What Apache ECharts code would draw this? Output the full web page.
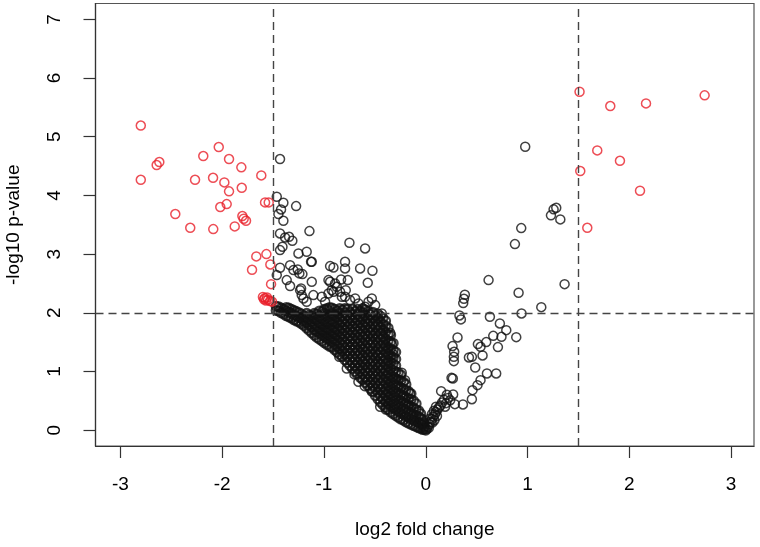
<!DOCTYPE html>
<html><head><meta charset="utf-8">
<script src="https://cdn.jsdelivr.net/npm/echarts@6/dist/echarts.min.js"></script>
<style>html,body{margin:0;padding:0;background:#fff}#c{width:760px;height:547px}</style>
</head><body><div id="c"></div>
<script>
const xTicks = [-3,-2,-1,0,1,2,3];
const yTicks = [0,1,2,3,4,5,6,7];
const fcCut = 1.5;
const pCut = 2;

const redLeft = [
 [-2.80,5.19],[-2.644,4.517],[-2.618,4.568],[-2.80,4.266],[-2.034,4.824],[-2.186,4.670],
 [-1.933,4.619],[-1.812,4.478],[-1.616,4.341],[-2.267,4.266],[-2.090,4.300],[-1.979,4.222],
 [-1.933,4.069],[-1.808,4.130],[-1.579,3.881],[-1.543,3.881],[-1.956,3.852],[-2.019,3.801],
 [-2.461,3.682],[-1.802,3.648],[-1.789,3.602],[-1.766,3.567],[-2.314,3.448],[-2.088,3.426],
 [-1.877,3.472],[-1.665,2.961],[-1.566,3.0],[-1.527,2.824],[-1.707,2.732],[-1.520,2.488],
 [-1.60,2.27],[-1.58,2.25],[-1.56,2.26],[-1.55,2.22],[-1.53,2.20],[-1.57,2.21],[-1.51,2.19],[-1.59,2.23]
];
const redRight = [
 [1.511,5.766],[1.813,5.522],[2.164,5.568],[2.740,5.705],[1.685,4.767],[1.908,4.590],
 [1.518,4.415],[2.105,4.079],[1.587,3.448]
];
const blackLeftScatter = [
 [-1.432,4.619],[-1.464,3.977],[-1.399,3.875],[-1.422,3.761],[-1.448,3.682],[-1.399,3.568],[-1.274,3.818],
 [-1.143,3.392],[-1.432,3.352],[-1.382,3.284],[-1.343,3.295],[-1.311,3.227],[-1.432,3.068],[-1.408,3.125],
 [-1.251,3.011],[-1.170,3.04],[-1.120,2.869],[-0.750,3.193],[-0.596,3.096],
 [-1.333,2.812],[-1.300,2.727],[-1.258,2.738],[-1.212,2.659],[-1.432,2.767],[-1.464,2.642],[-1.366,2.557],
 [-1.333,2.455],[-1.120,2.528],[-0.940,2.795],[-0.907,2.772],[-0.793,2.869],[-0.793,2.756],[-0.645,2.756],
 [-0.524,2.716],[-0.940,2.528],[-0.891,2.500],[-0.832,2.568],[-0.766,2.557],[-0.570,2.511],[-0.956,2.557],
 [-1.235,2.386],[-1.219,2.301],[-1.170,2.188],[-1.202,2.244],[-1.104,2.301],[-1.022,2.273],[-0.989,2.188],
 [-0.956,2.330],[-0.924,2.386],[-0.874,2.443],[-0.842,2.358],[-0.793,2.273],[-0.744,2.216],[-0.694,2.244],
 [-0.661,2.159],[-0.596,2.102],[-0.530,2.244],[-0.497,2.131],[-0.786,2.386],[-0.907,2.358],[-0.825,2.273],
 [-0.563,2.188],[-1.225,2.415],[-1.242,2.671],[-1.127,2.869]
];
const blackLeftEdge = [
 [-0.776,1.051],[-0.662,0.823],[-0.60,0.75],[-0.530,0.659],[-0.448,0.398],[-0.392,0.352],[-0.70,0.95],
 [-0.85,1.25],[-0.432,1.989],[-0.350,1.659],[-0.334,1.460],[-0.317,1.290],[-0.236,0.977],[-0.203,0.852],[-0.154,0.625]
];
const massCols = [
 [-1.47,[2.04,2.11]],
 [-1.42,[2.00,2.08]],
 [-1.37,[1.95,2.03,2.09]],
 [-1.32,[1.91,1.99,2.06]],
 [-1.27,[1.86,1.95,2.02]],
 [-1.22,[1.81,1.90,1.98]],
 [-1.17,[1.74,1.83,1.92,1.99]],
 [-1.12,[1.66,1.76,1.85,1.95]],
 [-1.07,[1.58,1.68,1.78,1.88,1.98]],
 [-1.02,[1.52,1.62,1.71,1.81,1.91,2.02]],
 [-0.97,[1.46,1.56,1.66,1.75,1.85,1.96,2.07]],
 [-0.92,[1.41,1.50,1.60,1.70,1.80,1.89,1.99,2.08]],
 [-0.87,[1.33,1.43,1.53,1.62,1.72,1.83,1.93,2.03]],
 [-0.82,[1.25,1.35,1.45,1.55,1.64,1.74,1.85,1.95,2.05]],
 [-0.77,[1.15,1.26,1.36,1.46,1.56,1.66,1.76,1.86,1.96,2.06]],
 [-0.72,[1.05,1.15,1.25,1.36,1.46,1.56,1.67,1.77,1.87,1.97,2.06]],
 [-0.67,[0.95,1.05,1.15,1.26,1.36,1.47,1.57,1.68,1.78,1.88,1.98,2.06]],
 [-0.62,[0.86,0.96,1.06,1.17,1.27,1.38,1.48,1.59,1.69,1.79,1.90,2.00,2.07]],
 [-0.57,[0.76,0.86,0.97,1.07,1.18,1.28,1.39,1.49,1.60,1.70,1.81,1.91,2.02]],
 [-0.52,[0.66,0.76,0.87,0.97,1.08,1.18,1.29,1.40,1.50,1.61,1.71,1.82,1.92,2.01]],
 [-0.47,[0.53,0.64,0.74,0.85,0.95,1.06,1.16,1.27,1.37,1.48,1.58,1.69,1.79,1.90,1.98]],
 [-0.42,[0.43,0.53,0.64,0.74,0.85,0.96,1.06,1.17,1.27,1.38,1.49,1.59,1.70,1.80,1.91]],
 [-0.37,[0.35,0.45,0.56,0.66,0.77,0.88,0.98,1.09,1.19,1.30,1.41,1.52,1.63,1.74]],
 [-0.32,[0.28,0.38,0.49,0.59,0.70,0.81,0.91,1.02,1.13,1.24,1.36,1.48]],
 [-0.27,[0.22,0.32,0.43,0.53,0.64,0.75,0.86,0.98]],
 [-0.22,[0.17,0.27,0.37,0.48,0.59,0.70,0.82]],
 [-0.17,[0.12,0.22,0.32,0.43,0.54,0.66]],
 [-0.12,[0.08,0.17,0.27,0.38,0.50]],
 [-0.07,[0.04,0.13,0.23,0.33]],
 [-0.03,[0.01,0.09,0.18]],
 [0.00,[0.00]]
];
const massCols2 = [
 [-1.445,[2.03,2.10]],
 [-1.395,[1.98,2.06]],
 [-1.345,[1.93,2.01,2.08]],
 [-1.295,[1.88,1.96,2.04]],
 [-1.245,[1.84,1.92,2.00]],
 [-1.195,[1.78,1.86,1.94]],
 [-1.145,[1.70,1.79,1.88,1.96]],
 [-1.095,[1.62,1.71,1.81,1.91,1.99]],
 [-1.045,[1.55,1.65,1.75,1.85,1.95,2.03]],
 [-0.995,[1.49,1.59,1.69,1.79,1.89,1.99,2.06]],
 [-0.945,[1.43,1.53,1.63,1.73,1.83,1.93,2.03,2.09]],
 [-0.895,[1.37,1.46,1.56,1.66,1.76,1.86,1.96,2.06]],
 [-0.845,[1.29,1.39,1.49,1.59,1.69,1.79,1.89,1.99,2.07]],
 [-0.795,[1.20,1.30,1.40,1.50,1.60,1.70,1.80,1.90,2.00,2.07]],
 [-0.745,[1.10,1.20,1.31,1.41,1.51,1.61,1.71,1.81,1.91,2.01]],
 [-0.695,[1.00,1.10,1.20,1.31,1.41,1.51,1.62,1.72,1.82,1.92,2.02]],
 [-0.645,[0.90,1.00,1.10,1.21,1.31,1.42,1.52,1.63,1.73,1.83,1.93,2.03]],
 [-0.595,[0.81,0.91,1.01,1.12,1.22,1.33,1.43,1.54,1.64,1.75,1.85,1.96,2.05]],
 [-0.545,[0.71,0.81,0.92,1.02,1.13,1.23,1.34,1.45,1.55,1.66,1.76,1.87,1.97]],
 [-0.495,[0.59,0.70,0.80,0.91,1.01,1.12,1.23,1.33,1.44,1.55,1.65,1.76,1.86,1.95]],
 [-0.445,[0.48,0.58,0.69,0.79,0.90,1.01,1.11,1.22,1.32,1.43,1.54,1.64,1.75,1.85,1.94]],
 [-0.395,[0.39,0.49,0.60,0.70,0.81,0.92,1.02,1.13,1.23,1.34,1.45,1.56,1.67,1.78,1.86]],
 [-0.345,[0.31,0.41,0.52,0.62,0.73,0.84,0.94,1.05,1.16,1.27,1.38,1.50,1.62]],
 [-0.295,[0.25,0.35,0.45,0.56,0.66,0.77,0.88,0.99,1.10,1.21,1.33]],
 [-0.245,[0.19,0.29,0.40,0.50,0.61,0.72,0.84,0.94]],
 [-0.195,[0.14,0.24,0.35,0.45,0.56,0.68,0.78]],
 [-0.145,[0.10,0.19,0.29,0.40,0.52,0.62]],
 [-0.095,[0.06,0.15,0.25,0.35,0.45]],
 [-0.05,[0.03,0.11,0.20,0.28]],
 [-0.015,[0.02,0.06,0.12]]
];
const blackRightArm = [
 [0.01,0.02],[0.02,0.06],[0.035,0.10],[0.05,0.14],[0.06,0.19],[0.075,0.23],[0.09,0.27],[0.10,0.31],
 [0.115,0.35],[0.13,0.39],[0.145,0.42],[0.04,0.20],[0.06,0.27],[0.08,0.33],[0.10,0.40],[0.03,0.04],
 [0.065,0.13],[0.085,0.17],[0.11,0.24],[0.16,0.47],[0.18,0.52],[0.20,0.46],[0.19,0.40],[0.22,0.55]
];
const blackRightScatter = [
 [0.977,4.829],[1.282,3.789],[1.256,3.762],[1.230,3.660],[1.322,3.591],[0.938,3.443],[0.876,3.170],
 [0.617,2.557],[1.364,2.488],[0.912,2.341],[0.384,2.307],[0.375,2.238],[0.368,2.165],[1.135,2.096],
 [0.941,1.989],[0.331,1.955],[0.345,1.887],[0.630,1.931],[0.728,1.818],[0.791,1.704],[0.663,1.607],
 [0.744,1.590],[0.889,1.585],[0.312,1.580],[0.263,1.432],[0.279,1.335],[0.276,1.249],[0.276,1.176],
 [0.512,1.466],[0.538,1.420],[0.594,1.500],[0.709,1.415],[0.558,1.273],[0.424,1.239],[0.453,1.249],
 [0.486,1.068],[0.253,0.891],[0.266,0.881],[0.601,0.966],[0.692,0.966],[0.538,0.852],[0.508,0.767],
 [0.459,0.682],[0.151,0.665],[0.207,0.602],[0.269,0.608],[0.453,0.528],[0.365,0.438],[0.286,0.443],[0.240,0.511]
];

const massPts = [];
massCols.concat(massCols2).forEach(c => c[1].forEach(y => massPts.push([c[0], y])));
const blackOther = blackLeftEdge.concat(blackLeftScatter, blackRightArm, blackRightScatter);
const redAll = redLeft.concat(redRight);

const FONT = 'Liberation Sans';
const chart = echarts.init(document.getElementById('c'), null, {renderer:'canvas'});
const ring = (col, w) => ({color:'rgba(0,0,0,0)', borderColor:col, borderWidth:w});
chart.setOption({
  animation:false,
  backgroundColor:'#fff',
  grid:{left:95.5, right:6, top:3.5, bottom:101, containLabel:false, outerBoundsMode:'none',
        show:true, borderColor:'#555', borderWidth:1.2, backgroundColor:'transparent'},
  xAxis:{
    type:'value', min:-3.245, max:3.225,
    splitLine:{show:false},
    axisLine:{show:true, onZero:false, lineStyle:{color:'#333', width:1.2}},
    axisTick:{show:true, customValues:xTicks, length:12, inside:false, lineStyle:{color:'#333', width:1.2}},
    axisLabel:{customValues:xTicks, fontFamily:FONT, fontSize:19, color:'#000', margin:29},
    name:'log2 fold change', nameLocation:'middle', nameGap:74,
    nameTextStyle:{fontFamily:FONT, fontSize:19, color:'#000'}
  },
  yAxis:{
    type:'value', min:-0.27, max:7.27,
    splitLine:{show:false},
    axisLine:{show:true, onZero:false, lineStyle:{color:'#333', width:1.2}},
    axisTick:{show:true, customValues:yTicks, length:12, inside:false, lineStyle:{color:'#333', width:1.2}},
    axisLabel:{customValues:yTicks, rotate:90, fontFamily:FONT, fontSize:19, color:'#000', margin:31},
    name:'-log10 p-value', nameLocation:'middle', nameGap:72, nameRotate:90,
    nameTextStyle:{fontFamily:FONT, fontSize:19, color:'#000'}
  },
  series:[
    {type:'scatter', data:massPts, symbol:'circle', symbolSize:9, itemStyle:ring('#111', 2.1), silent:true, z:2,
     markLine:{silent:true, symbol:'none', label:{show:false},
       lineStyle:{color:'#444', width:1.4, type:[8,5]},
       data:[{xAxis:-fcCut},{xAxis:fcCut},{yAxis:pCut}]}},
    {type:'scatter', data:blackOther, symbol:'circle', symbolSize:9, itemStyle:ring('#111', 1.5), silent:true, z:2},
    {type:'scatter', data:redAll, symbol:'circle', symbolSize:9, itemStyle:ring('#e8202a', 1.5), silent:true, z:3}
  ]
});
</script></body></html>
